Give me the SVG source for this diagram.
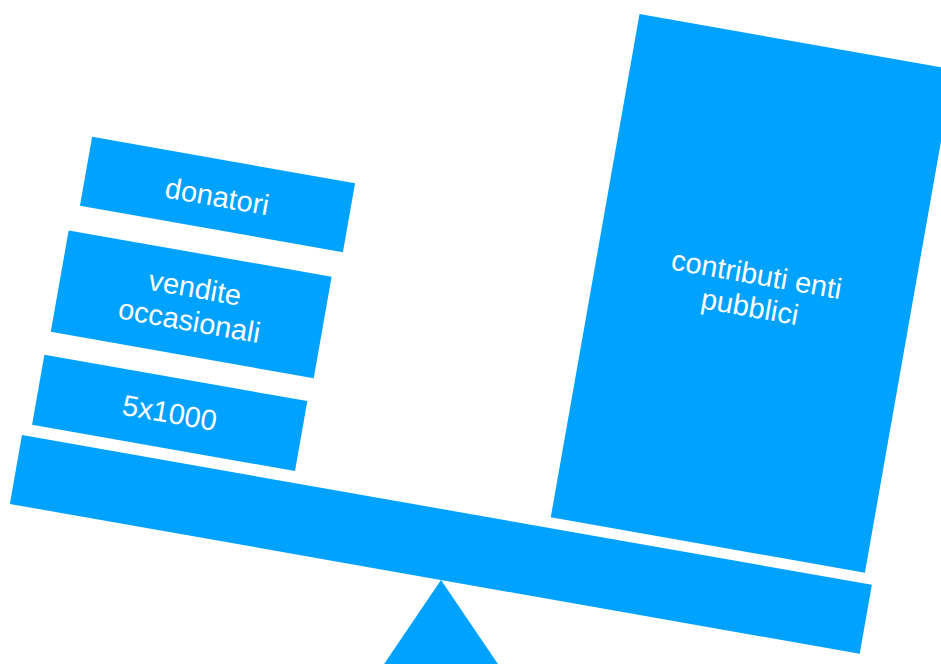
<svg xmlns="http://www.w3.org/2000/svg" width="941" height="664" viewBox="0 0 941 664">
  <style>
    .blk { fill: #00A2FF; }
    .lbl { fill: #FFFFFF; font-family: "Liberation Sans", Helvetica, Arial, sans-serif; font-size: 29px; text-anchor: middle; }
  </style>
  <rect width="941" height="664" fill="#FFFFFF"/>
  <g id="fulcrum">
    <polygon class="blk" points="441,580 380,670 502,670"/>
  </g>
  <g id="beam" transform="translate(440.85,544.4) rotate(10)">
    <rect class="blk" x="-431.5" y="-35" width="863" height="70"/>
  </g>
  <g id="contributi" transform="translate(752.2,293.4) rotate(10)">
    <rect class="blk" x="-159.5" y="-255.5" width="319" height="511"/>
    <text class="lbl" x="1" y="-9.5">contributi enti</text>
    <text class="lbl" x="0" y="23.5">pubblici</text>
  </g>
  <g id="donatori" transform="translate(217.5,194.5) rotate(10)">
    <rect class="blk" x="-133.5" y="-35" width="267" height="70"/>
    <text class="lbl" x="0" y="12">donatori</text>
  </g>
  <g id="vendite" transform="translate(191.2,304.3) rotate(10)">
    <rect class="blk" x="-133.5" y="-51.5" width="267" height="103"/>
    <text class="lbl" x="1" y="-7">vendite</text>
    <text class="lbl" x="1" y="26.5">occasionali</text>
  </g>
  <g id="cinquepermille" transform="translate(169.7,412.9) rotate(10)">
    <rect class="blk" x="-133.5" y="-35.5" width="267" height="71"/>
    <text class="lbl" x="0" y="10">5x1000</text>
  </g>
  <g id="connectors"></g>
</svg>
